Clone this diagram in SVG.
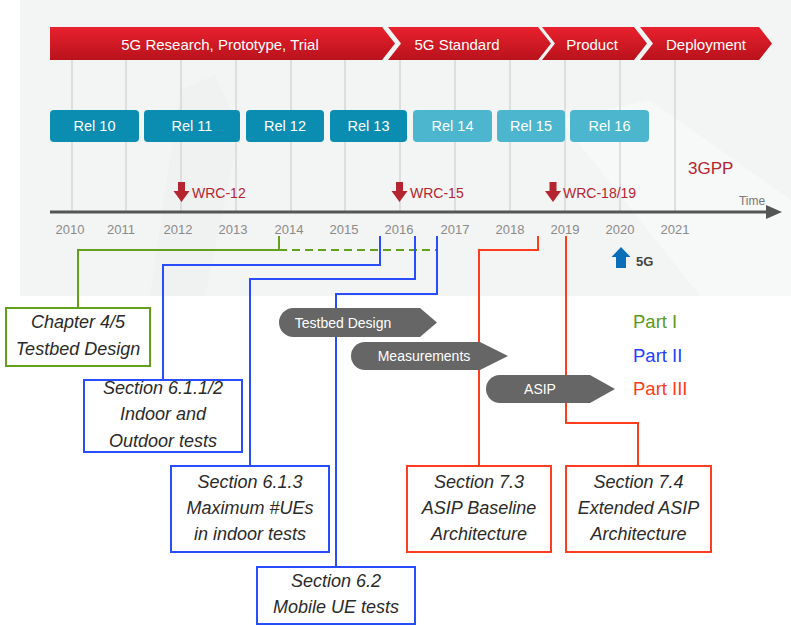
<svg xmlns="http://www.w3.org/2000/svg" width="791" height="626" viewBox="0 0 791 626">
  <defs>
    <linearGradient id="redBar" x1="0" y1="0" x2="0" y2="1">
      <stop offset="0" stop-color="#e8212d"/>
      <stop offset="1" stop-color="#b9121c"/>
    </linearGradient>
    <style>
      .phase { fill: url(#redBar); }
      .phaseTxt { font-family: "Liberation Sans", Arial, sans-serif; font-size: 15px; fill: #ffffff; text-anchor: middle; }
      .grid { stroke: #d6d7d7; stroke-width: 1.5; }
      .relDark { fill: #0b8db2; }
      .relLight { fill: #4cb6ce; }
      .relTxt { font-family: "Liberation Sans", Arial, sans-serif; font-size: 14.5px; fill: #ffffff; text-anchor: middle; }
      .year { font-family: "Liberation Sans", Arial, sans-serif; font-size: 13px; fill: #8a8a8a; text-anchor: middle; }
      .wrc { fill: #b5252f; }
      .wrcTxt { font-family: "Liberation Sans", Arial, sans-serif; font-size: 14px; fill: #b5252f; }
      .pill { fill: #666666; }
      .pillTxt { font-family: "Liberation Sans", Arial, sans-serif; font-size: 14px; fill: #ffffff; text-anchor: middle; }
      .box { fill: #ffffff; stroke-width: 2; }
      .boxTxt { font-family: "Liberation Sans", Arial, sans-serif; font-size: 18px; font-style: italic; fill: #2a2a2a; text-anchor: middle; }
      .green { stroke: #62a01e; }
      .blue { stroke: #2a4cff; }
      .red { stroke: #ff3c1e; }
      .link { fill: none; stroke-width: 2; }
      .legend { font-family: "Liberation Sans", Arial, sans-serif; font-size: 18.5px; }
    </style>
  </defs>

  <!-- timeline panel -->
  <g id="panel">
    <rect x="20" y="0" width="771" height="296" fill="#f3f4f4"/>
    <polygon points="180,90 215,75 240,130 205,296 150,296" fill="#eef0f0" opacity="0.6"/>
    <polygon points="560,120 700,296 791,296 791,200 650,100" fill="#f8f9f9" opacity="0.7"/>
  </g>

  <!-- year grid -->
  <g id="grid">
    <line class="grid" x1="72" y1="60" x2="72" y2="212"/>
    <line class="grid" x1="126" y1="60" x2="126" y2="212"/>
    <line class="grid" x1="181" y1="60" x2="181" y2="212"/>
    <line class="grid" x1="236" y1="60" x2="236" y2="212"/>
    <line class="grid" x1="291" y1="60" x2="291" y2="212"/>
    <line class="grid" x1="345" y1="60" x2="345" y2="212"/>
    <line class="grid" x1="400" y1="60" x2="400" y2="212"/>
    <line class="grid" x1="455" y1="60" x2="455" y2="212"/>
    <line class="grid" x1="510" y1="60" x2="510" y2="212"/>
    <line class="grid" x1="565" y1="60" x2="565" y2="212"/>
    <line class="grid" x1="620" y1="60" x2="620" y2="212"/>
    <line class="grid" x1="675" y1="60" x2="675" y2="212"/>
  </g>

  <!-- phase chevrons -->
  <g id="phase-research">
    <polygon class="phase" points="50,27 382,27 395,43.5 382,60 50,60"/>
    <text class="phaseTxt" x="220" y="50">5G Research, Prototype, Trial</text>
  </g>
  <g id="phase-standard">
    <polygon class="phase" points="388,27 538,27 551,43.5 538,60 388,60 401,43.5"/>
    <text class="phaseTxt" x="457" y="50">5G Standard</text>
  </g>
  <g id="phase-product">
    <polygon class="phase" points="542,27 634,27 647,43.5 634,60 542,60 555,43.5"/>
    <text class="phaseTxt" x="592" y="50">Product</text>
  </g>
  <g id="phase-deployment">
    <polygon class="phase" points="640,27 759,27 772,43.5 759,60 640,60 653,43.5"/>
    <text class="phaseTxt" x="706" y="50">Deployment</text>
  </g>

  <!-- 3GPP releases -->
  <g id="rel10"><rect class="relDark" x="50" y="110" width="89" height="32" rx="4"/><text class="relTxt" x="94.5" y="131">Rel 10</text></g>
  <g id="rel11"><rect class="relDark" x="144" y="110" width="96" height="32" rx="4"/><text class="relTxt" x="192" y="131">Rel 11</text></g>
  <g id="rel12"><rect class="relDark" x="246" y="110" width="78" height="32" rx="4"/><text class="relTxt" x="285" y="131">Rel 12</text></g>
  <g id="rel13"><rect class="relDark" x="330" y="110" width="77" height="32" rx="4"/><text class="relTxt" x="368.5" y="131">Rel 13</text></g>
  <g id="rel14"><rect class="relLight" x="413" y="110" width="79" height="32" rx="4"/><text class="relTxt" x="452.5" y="131">Rel 14</text></g>
  <g id="rel15"><rect class="relLight" x="497" y="110" width="68" height="32" rx="4"/><text class="relTxt" x="531" y="131">Rel 15</text></g>
  <g id="rel16"><rect class="relLight" x="570" y="110" width="79" height="32" rx="4"/><text class="relTxt" x="609.5" y="131">Rel 16</text></g>

  <g id="label-3gpp">
    <text x="688" y="174" font-family="Liberation Sans, Arial, sans-serif" font-size="17" fill="#b5252f">3GPP</text>
  </g>

  <!-- WRC markers -->
  <g id="wrc12">
    <polygon class="wrc" points="178,182 185,182 185,191 189.5,191 181.5,202 173.5,191 178,191"/>
    <text class="wrcTxt" x="192" y="198">WRC-12</text>
  </g>
  <g id="wrc15">
    <polygon class="wrc" points="396,182 403,182 403,191 407.5,191 399.5,202 391.5,191 396,191"/>
    <text class="wrcTxt" x="410" y="198">WRC-15</text>
  </g>
  <g id="wrc1819">
    <polygon class="wrc" points="549.5,182 556.5,182 556.5,191 561,191 553,202 545,191 549.5,191"/>
    <text class="wrcTxt" x="563" y="198">WRC-18/19</text>
  </g>

  <!-- time axis -->
  <g id="axis">
    <line x1="50" y1="212" x2="768" y2="212" stroke="#555555" stroke-width="3"/>
    <polygon points="766,205 782,212 766,219" fill="#555555"/>
    <text x="752" y="205" font-family="Liberation Sans, Arial, sans-serif" font-size="12" fill="#777777" text-anchor="middle">Time</text>
    <text class="year" x="70" y="234">2010</text>
    <text class="year" x="121" y="234">2011</text>
    <text class="year" x="178" y="234">2012</text>
    <text class="year" x="233" y="234">2013</text>
    <text class="year" x="289" y="234">2014</text>
    <text class="year" x="344" y="234">2015</text>
    <text class="year" x="399" y="234">2016</text>
    <text class="year" x="455" y="234">2017</text>
    <text class="year" x="510" y="234">2018</text>
    <text class="year" x="565" y="234">2019</text>
    <text class="year" x="620" y="234">2020</text>
    <text class="year" x="675" y="234">2021</text>
  </g>

  <g id="marker-5g">
    <polygon points="621,247 630.5,257 626,257 626,268 616,268 616,257 611.5,257" fill="#0a6eb8"/>
    <text x="636" y="266" font-family="Liberation Sans, Arial, sans-serif" font-size="13" font-weight="bold" fill="#444444">5G</text>
  </g>

  <!-- connectors from the timeline to the chapter boxes -->
  <g id="connectors">
    <polyline class="link green" points="279,236 279,250 78,250 78,308"/>
    <line class="link green" x1="279" y1="250" x2="437" y2="250" stroke-dasharray="8,5"/>
    <polyline class="link blue" points="380,236 380,265 163,265 163,380"/>
    <polyline class="link blue" points="415,236 415,279 250,279 250,466"/>
    <polyline class="link blue" points="437,236 437,294 336,294 336,567"/>
    <polyline class="link red" points="538,236 538,250 479,250 479,466"/>
    <polyline class="link red" points="566,236 566,423 638,423 638,466"/>
  </g>

  <!-- work-stream arrows -->
  <g id="stream-testbed">
    <path class="pill" d="M293.5,308 H420 L437,322.5 L420,337 H293.5 A14.5,14.5 0 0 1 293.5,308 Z"/>
    <text class="pillTxt" x="343" y="327.5">Testbed Design</text>
  </g>
  <g id="stream-measurements">
    <path class="pill" d="M365,342 H480 L508,356 L480,370 H365 A14,14 0 0 1 365,342 Z"/>
    <text class="pillTxt" x="424" y="361">Measurements</text>
  </g>
  <g id="stream-asip">
    <path class="pill" d="M500,375 H590 L615,389 L590,403 H500 A14,14 0 0 1 500,375 Z"/>
    <text class="pillTxt" x="540" y="394" font-size="14.5">ASIP</text>
  </g>

  <!-- legend -->
  <g id="legend">
    <text class="legend" x="633" y="328" fill="#5a9a1e">Part I</text>
    <text class="legend" x="633" y="362" fill="#1f3fff">Part II</text>
    <text class="legend" x="633" y="395" fill="#ff3a1a">Part III</text>
  </g>

  <!-- chapter boxes -->
  <g id="box-ch45">
    <rect class="box green" x="6" y="308" width="144" height="58"/>
    <text class="boxTxt" x="78" y="328">Chapter 4/5</text>
    <text class="boxTxt" x="78" y="355">Testbed Design</text>
  </g>
  <g id="box-s6112">
    <rect class="box blue" x="84" y="380" width="158" height="72"/>
    <text class="boxTxt" x="163" y="394">Section 6.1.1/2</text>
    <text class="boxTxt" x="163" y="420">Indoor and</text>
    <text class="boxTxt" x="163" y="447">Outdoor tests</text>
  </g>
  <g id="box-s613">
    <rect class="box blue" x="171" y="466" width="158" height="86"/>
    <text class="boxTxt" x="250" y="488">Section 6.1.3</text>
    <text class="boxTxt" x="250" y="514">Maximum #UEs</text>
    <text class="boxTxt" x="250" y="540">in indoor tests</text>
  </g>
  <g id="box-s62">
    <rect class="box blue" x="257" y="567" width="158" height="57"/>
    <text class="boxTxt" x="336" y="587">Section 6.2</text>
    <text class="boxTxt" x="336" y="613">Mobile UE tests</text>
  </g>
  <g id="box-s73">
    <rect class="box red" x="407" y="466" width="144" height="86"/>
    <text class="boxTxt" x="479" y="488">Section 7.3</text>
    <text class="boxTxt" x="479" y="514">ASIP Baseline</text>
    <text class="boxTxt" x="479" y="540">Architecture</text>
  </g>
  <g id="box-s74">
    <rect class="box red" x="566" y="466" width="145" height="86"/>
    <text class="boxTxt" x="638.5" y="488">Section 7.4</text>
    <text class="boxTxt" x="638.5" y="514">Extended ASIP</text>
    <text class="boxTxt" x="638.5" y="540">Architecture</text>
  </g>
</svg>
